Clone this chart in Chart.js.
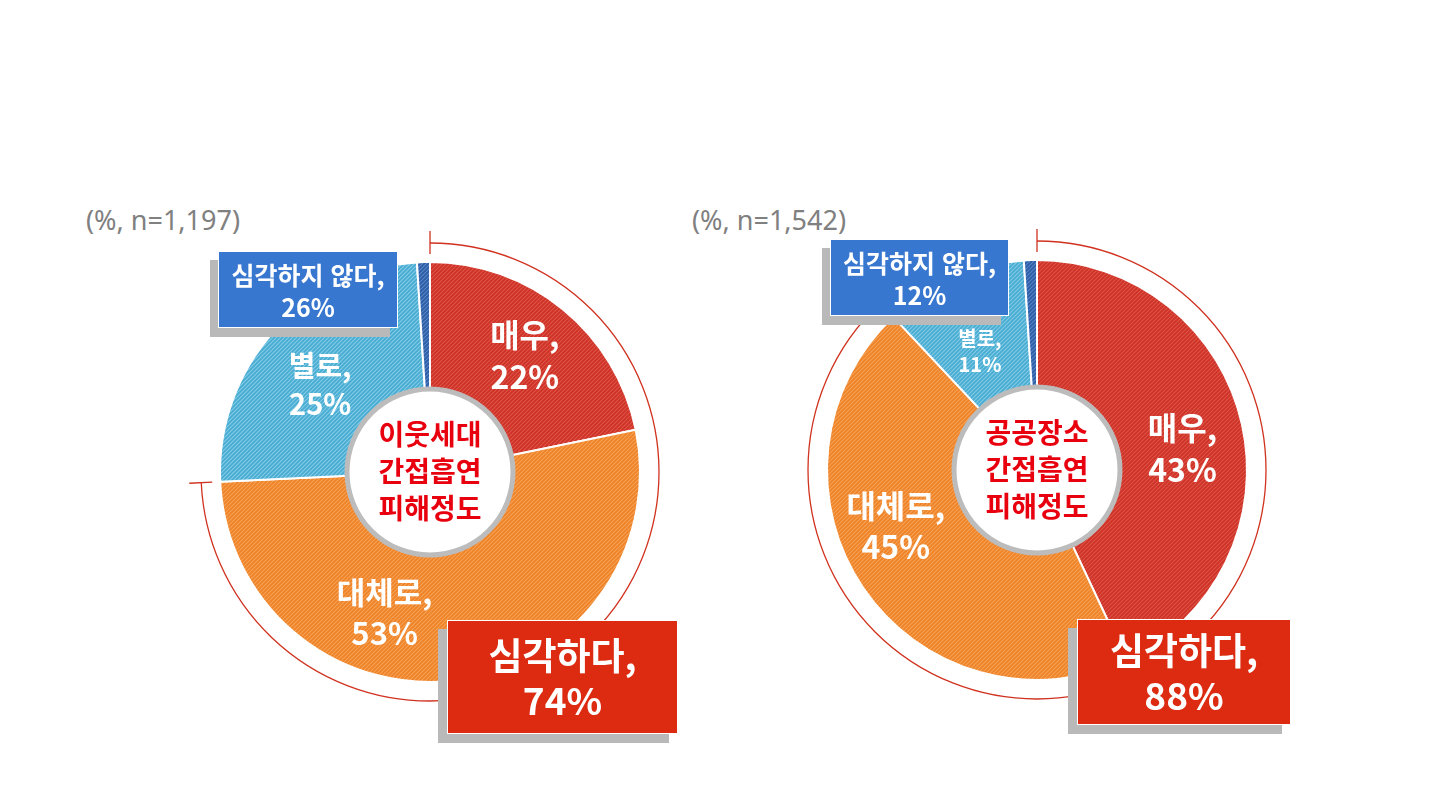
<!DOCTYPE html>
<html lang="ko">
<head>
<meta charset="utf-8">
<script src="https://cdn.jsdelivr.net/npm/chart.js@4.4.1/dist/chart.umd.min.js"></script>
<style>
  html, body { margin: 0; padding: 0; background: #fff; }
  body { width: 1455px; height: 811px; position: relative; overflow: hidden;
         font-family: "Noto Sans CJK KR", "Noto Sans", sans-serif; }
  .wrap { position: absolute; width: 600px; height: 600px; }
  .note { position: absolute; color: #808080; font-size: 27px; line-height: 30px;
          font-family: "Noto Sans", "DejaVu Sans", sans-serif; }
  .box { position: absolute; color: #fff; font-weight: 700; text-align: center;
         box-sizing: border-box; border: 1px solid #fff; display: flex;
         flex-direction: column; justify-content: center; }
  .blue { background: #3877cf; box-shadow: -8px 9px 0 0 #b9b9b9; font-size: 25px; line-height: 32px; }
  .red  { background: #dc2b10; box-shadow: -9px 9px 0 0 #b9b9b9; font-size: 37px; line-height: 45px; }
</style>
</head>
<body>

<div class="note" style="left:86px; top:205px;">(%, n=1,197)</div>
<div class="note" style="left:692px; top:205px;">(%, n=1,542)</div>

<div class="wrap" style="left:130px; top:172px;"><canvas id="neighborChart" width="600" height="600"></canvas></div>
<div class="wrap" style="left:737px; top:170px;"><canvas id="publicChart" width="600" height="600"></canvas></div>

<div class="box blue" id="neighborNot" style="left:218px; top:251px; width:180px; height:77px;"></div>
<div class="box red"  id="neighborYes" style="left:447px; top:620px; width:231px; height:114px;"></div>
<div class="box blue" id="publicNot"   style="left:830px; top:239px; width:179px; height:77px;"></div>
<div class="box red"  id="publicYes"   style="left:1077px; top:619px; width:214px; height:106px;"></div>

<script>
// slices, clockwise from the top
const categories = ['매우', '대체로', '별로', '전혀'];
const neighborValues = [22, 53, 25, 1];
const publicValues = [43, 45, 11, 1];
// [심각하다, 심각하지 않다]
const summaryLabels = ['심각하다', '심각하지 않다'];
const neighborSummary = [74, 26];
const publicSummary = [88, 12];
const neighborTitle = ['이웃세대', '간접흡연', '피해정도'];
const publicTitle = ['공공장소', '간접흡연', '피해정도'];

function hatch(base, line) {
  const c = document.createElement('canvas');
  c.width = c.height = 4;
  const g = c.getContext('2d');
  g.fillStyle = base;
  g.fillRect(0, 0, 4, 4);
  g.strokeStyle = line;
  g.lineWidth = 1.1;
  g.beginPath();
  g.moveTo(0, 4); g.lineTo(4, 0);
  g.moveTo(-1, 1); g.lineTo(1, -1);
  g.moveTo(3, 5); g.lineTo(5, 3);
  g.stroke();
  return g.createPattern(c, 'repeat');
}

const sliceColors = [
  hatch('#cd3127', '#df5546'),
  hatch('#ee8226', '#f6a257'),
  hatch('#47acd2', '#85cbe6'),
  hatch('#2a5ca6', '#5b86c6')
];

// outer bracket, centre badge and slice labels
const ringPlugin = {
  id: 'ring',
  afterDatasetsDraw(chart, args, opts) {
    const ctx = chart.ctx;
    const arcs = chart.getDatasetMeta(0).data;
    const cx = arcs[0].x, cy = arcs[0].y;
    ctx.save();

    // bracket over the "serious" share
    const a0 = arcs[0].startAngle, a1 = arcs[opts.bracketTo].endAngle;
    const br = opts.bracketR;
    ctx.strokeStyle = '#d0321f';
    ctx.lineWidth = 1.3;
    ctx.beginPath();
    ctx.arc(cx, cy, br, a0, a1);
    ctx.stroke();
    [a0, a1].forEach(a => {
      ctx.beginPath();
      ctx.moveTo(cx + Math.cos(a) * (br - 11), cy + Math.sin(a) * (br - 11));
      ctx.lineTo(cx + Math.cos(a) * (br + 12), cy + Math.sin(a) * (br + 12));
      ctx.stroke();
    });

    // centre badge
    ctx.beginPath();
    ctx.arc(cx, cy, 83, 0, Math.PI * 2);
    ctx.fillStyle = '#fff';
    ctx.fill();
    ctx.lineWidth = 5;
    ctx.strokeStyle = '#bcbcbc';
    ctx.stroke();

    ctx.fillStyle = '#e8000f';
    ctx.font = 'bold 28px "Noto Sans CJK KR"';
    ctx.textAlign = 'center';
    ctx.textBaseline = 'middle';
    opts.title.forEach((t, i) => ctx.fillText(t, cx, cy - 38 + i * 37));

    // slice labels
    ctx.fillStyle = '#fff';
    const values = chart.data.datasets[0].data;
    opts.labels.forEach((l, i) => {
      if (!l) return;
      const arc = arcs[i];
      const mid = (arc.startAngle + arc.endAngle) / 2 + l.nudge * Math.PI / 180;
      const x = cx + Math.cos(mid) * l.r;
      const y = cy + Math.sin(mid) * l.r;
      const gap = l.size * 1.3;
      ctx.font = 'bold ' + l.size + 'px "Noto Sans CJK KR"';
      ctx.fillText(chart.data.labels[i] + ',', x, y - gap / 2);
      ctx.fillText(values[i] + '%', x, y + gap / 2);
    });
    ctx.restore();
  }
};

function makeChart(id, values, title, labels) {
  return new Chart(document.getElementById(id), {
    type: 'doughnut',
    data: {
      labels: categories,
      datasets: [{
        data: values,
        backgroundColor: sliceColors,
        borderColor: '#fff',
        borderWidth: 2
      }]
    },
    options: {
      responsive: false,
      animation: false,
      radius: 210,
      cutout: 78,
      plugins: {
        legend: { display: false },
        tooltip: { enabled: false },
        ring: { bracketTo: 1, bracketR: 229, title: title, labels: labels }
      }
    },
    plugins: [ringPlugin]
  });
}

makeChart('neighborChart', neighborValues, neighborTitle, [
  { nudge: 0, r: 150, size: 32 },
  { nudge: 25, r: 148, size: 31 },
  { nudge: -3.6, r: 140, size: 29 },
  null
]);
makeChart('publicChart', publicValues, publicTitle, [
  { nudge: 4.4, r: 147, size: 32 },
  { nudge: 12.5, r: 152, size: 32 },
  { nudge: -2.2, r: 132, size: 20 },
  null
]);

function fillBox(id, label, value) {
  document.getElementById(id).innerHTML = '<div>' + label + ',</div><div>' + value + '%</div>';
}
fillBox('neighborYes', summaryLabels[0], neighborSummary[0]);
fillBox('neighborNot', summaryLabels[1], neighborSummary[1]);
fillBox('publicYes', summaryLabels[0], publicSummary[0]);
fillBox('publicNot', summaryLabels[1], publicSummary[1]);
</script>
</body>
</html>
